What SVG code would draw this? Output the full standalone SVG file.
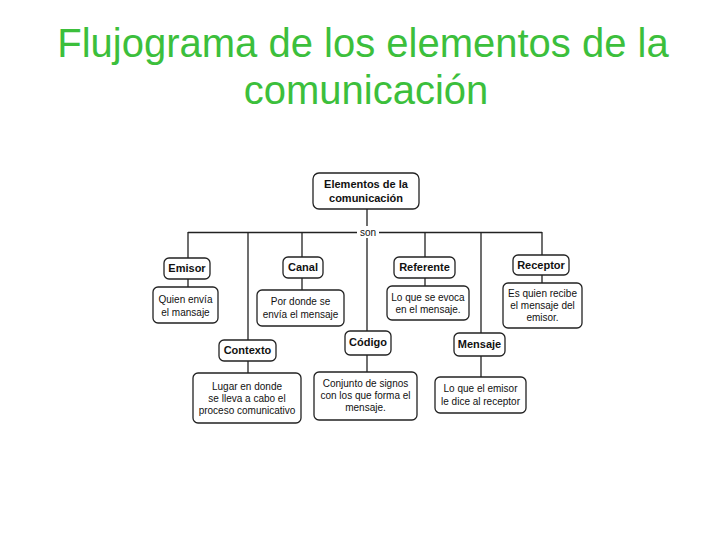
<svg xmlns="http://www.w3.org/2000/svg" width="728" height="546" viewBox="0 0 728 546">
<style>
.title{font-family:"Liberation Sans",Arial,sans-serif;font-size:40px;fill:#3cbf3c;text-anchor:middle}
.box{fill:#fff;stroke:#222;stroke-width:1.3}
.lbl{font-family:"Liberation Sans",Arial,sans-serif;font-size:11px;font-weight:bold;fill:#111;text-anchor:middle}
.desc{font-family:"Liberation Sans",Arial,sans-serif;font-size:10px;fill:#111;text-anchor:middle}
.ln{stroke:#222;stroke-width:1.3;fill:none}
</style>
<rect width="728" height="546" fill="#fff"/>
<text class="title" x="363" y="57">Flujograma de los elementos de la</text>
<text class="title" x="366" y="104">comunicación</text>
<g id="connectors">
<path class="ln" d="M188,232.5 H357 M379,232.5 H542"/>
<path class="ln" d="M367,209 V226 M367,238 V331"/>
<path class="ln" d="M188,232 V258 M188,279 V287"/>
<path class="ln" d="M248,232 V340 M248,361 V373"/>
<path class="ln" d="M302,232 V257 M302,278 V290"/>
<path class="ln" d="M367,355 V372"/>
<path class="ln" d="M425,232 V257 M425,278 V286"/>
<path class="ln" d="M481,232 V333 M481,356 V377"/>
<path class="ln" d="M542,232 V255 M542,275 V283"/>
<text class="desc" x="368" y="236">son</text>
</g>
<g id="root">
<rect class="box" x="313" y="173" width="106" height="36" rx="6"/>
<text class="lbl" x="366" y="188">Elementos de la</text>
<text class="lbl" x="366" y="202">comunicación</text>
</g>
<g id="emisor">
<rect class="box" x="164" y="258" width="46" height="21" rx="5"/>
<text class="lbl" x="187" y="272">Emisor</text>
</g>
<g id="emisor-desc">
<rect class="box" x="153" y="287" width="65" height="36" rx="5"/>
<text class="desc" x="185.5" y="303">Quien envía</text>
<text class="desc" x="185.5" y="316">el mansaje</text>
</g>
<g id="canal">
<rect class="box" x="283" y="257" width="40" height="21" rx="5"/>
<text class="lbl" x="303" y="271">Canal</text>
</g>
<g id="canal-desc">
<rect class="box" x="257" y="290" width="87" height="36" rx="5"/>
<text class="desc" x="300.5" y="305">Por donde se</text>
<text class="desc" x="300.5" y="318">envía el mensaje</text>
</g>
<g id="contexto">
<rect class="box" x="219" y="340" width="57" height="21" rx="5"/>
<text class="lbl" x="247.5" y="354">Contexto</text>
</g>
<g id="contexto-desc">
<rect class="box" x="193" y="373" width="108" height="50" rx="5"/>
<text class="desc" x="247" y="390">Lugar en donde</text>
<text class="desc" x="247" y="402">se lleva a cabo el</text>
<text class="desc" x="247" y="414">proceso comunicativo</text>
</g>
<g id="codigo">
<rect class="box" x="345" y="331" width="46" height="24" rx="5"/>
<text class="lbl" x="368" y="346">Código</text>
</g>
<g id="codigo-desc">
<rect class="box" x="314" y="372" width="103" height="48" rx="5"/>
<text class="desc" x="365.5" y="387">Conjunto de signos</text>
<text class="desc" x="365.5" y="399">con los que forma el</text>
<text class="desc" x="365.5" y="411">mensaje.</text>
</g>
<g id="referente">
<rect class="box" x="394" y="257" width="61" height="21" rx="5"/>
<text class="lbl" x="424.5" y="271">Referente</text>
</g>
<g id="referente-desc">
<rect class="box" x="387" y="286" width="82" height="34" rx="5"/>
<text class="desc" x="428" y="301">Lo que se evoca</text>
<text class="desc" x="428" y="313">en el mensaje.</text>
</g>
<g id="mensaje">
<rect class="box" x="454" y="333" width="51" height="23" rx="5"/>
<text class="lbl" x="479.5" y="348">Mensaje</text>
</g>
<g id="mensaje-desc">
<rect class="box" x="435" y="377" width="91" height="36" rx="5"/>
<text class="desc" x="480.5" y="392">Lo que el emisor</text>
<text class="desc" x="480.5" y="405">le dice al receptor</text>
</g>
<g id="receptor">
<rect class="box" x="513" y="255" width="56" height="20" rx="5"/>
<text class="lbl" x="541" y="269">Receptor</text>
</g>
<g id="receptor-desc">
<rect class="box" x="503" y="283" width="79" height="45" rx="5"/>
<text class="desc" x="542.5" y="297">Es quien recibe</text>
<text class="desc" x="542.5" y="309">el mensaje del</text>
<text class="desc" x="542.5" y="321">emisor.</text>
</g>
</svg>
